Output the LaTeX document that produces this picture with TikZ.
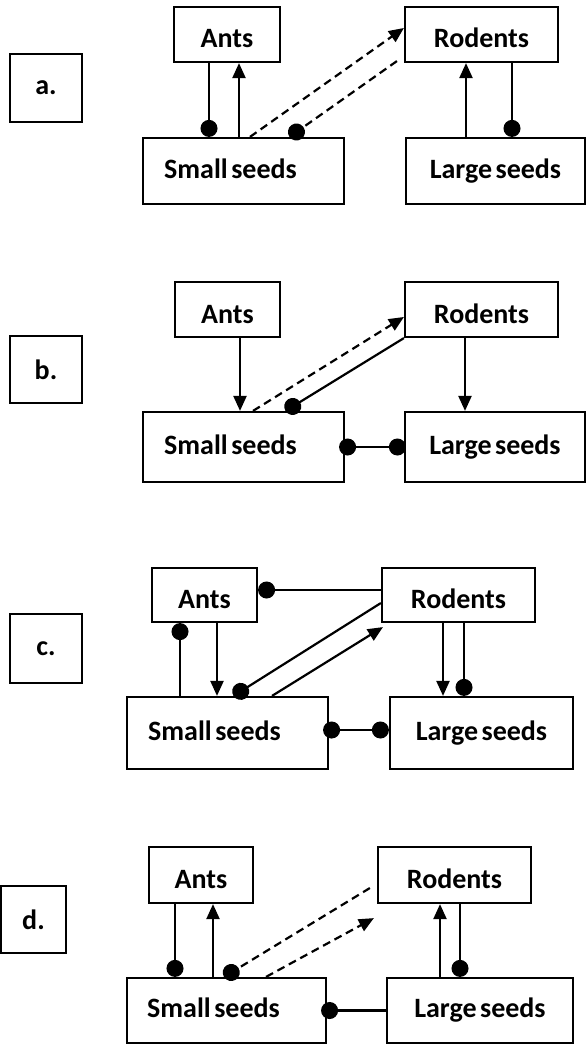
\documentclass[tikz,border=0pt]{standalone}
\usepackage{fontspec}
\setmainfont{Carlito}[WordSpace=0.55]
\usetikzlibrary{arrows.meta}
\tikzset{
box/.style={
	  draw, line width=2.2pt, rectangle, inner sep=0pt,
	    font=\bfseries\fontsize{28}{30}\selectfont},
upbox/.style={box, minimum height=55pt, text height=27pt, text depth=0pt},
seedbox/.style={box, text height=18pt, text depth=4pt},
smallbox/.style={seedbox, minimum width=201pt, execute at end node={\hspace{26pt}}},
tagbox/.style={box, minimum width=72pt},
act/.style={line width=2.2pt, -{Triangle[length=15pt, width=13pt]}},
inh/.style={line width=2.2pt, -{Circle[length=17pt]}},
inhboth/.style={line width=2.2pt, {Circle[length=17pt]}-{Circle[length=17pt]}},
dashline/.style={dash pattern=on 8pt off 5pt}
}

\begin{document}
\begin{tikzpicture}[x=1pt, y=-1pt]
	\useasboundingbox (0,0) rectangle (587,1046);
	% a.
	\node[tagbox, minimum height=68pt] (a-tag) at (46,88) {a.};
	\node[upbox, minimum width=106pt] (a-ants) at (227,34.5) {Ants};
	\node[upbox, minimum width=153pt] (a-rod) at (481.5,34.5) {Rodents};
	\node[smallbox, minimum height=66pt] (a-small) at (243.5,171) {Small seeds};
	\node[seedbox, minimum width=179pt, minimum height=66pt] (a-large) at (495.5,171) {Large seeds};
	\draw[inh] ([xshift=-18pt]a-ants.south) -- ([xshift=-18pt]a-ants.south |- a-small.north);
	\draw[act] ([xshift=12pt]a-ants.south |- a-small.north) -- ([xshift=12pt]a-ants.south);
	\draw[act, dashline] ([xshift=6.5pt]a-small.north) -- ([yshift=6.5pt]a-rod.west);
	\draw[inh, dashline] ([xshift=-7pt, yshift=2pt]a-rod.south west) -- ([xshift=46pt]a-small.north);
	\draw[act] ([xshift=-15.5pt]a-rod.south |- a-large.north) -- ([xshift=-15.5pt]a-rod.south);
	\draw[inh] ([xshift=30.5pt]a-rod.south) -- ([xshift=30.5pt]a-rod.south |- a-large.north);
	% b.
	\node[tagbox, minimum height=67pt] (b-tag) at (46,369.5) {b.};
	\node[upbox, minimum width=105pt] (b-ants) at (227.5,309.5) {Ants};
	\node[upbox, minimum width=153pt] (b-rod) at (481.5,309.5) {Rodents};
	\node[smallbox, minimum height=70pt] (b-small) at (243.5,447) {Small seeds};
	\node[seedbox, minimum width=180pt, minimum height=70pt] (b-large) at (495,447) {Large seeds};
	\draw[act] ([xshift=12.5pt]b-ants.south) -- ([xshift=12.5pt]b-ants.south |- b-small.north);
	\draw[act, dashline] ([xshift=9.5pt]b-small.north) -- ([yshift=-7.5pt]b-rod.west);
	\draw[inh] (b-rod.south west) -- ([xshift=42pt]b-small.north);
	\draw[act] ([xshift=-16.5pt]b-rod.south) -- ([xshift=-16.5pt]b-rod.south |- b-large.north);
	\draw[inhboth, shorten <=-6pt, shorten >=-2pt] (b-small.east) -- (b-large.west);
	% c.
	\node[tagbox, minimum height=69pt] (c-tag) at (46,648.5) {c.};
	\node[upbox, minimum width=105pt, minimum height=54pt] (c-ants) at (204.5,595) {Ants};
	\node[upbox, minimum width=153pt, minimum height=54pt] (c-rod) at (458.5,595) {Rodents};
	\node[smallbox, minimum height=72pt] (c-small) at (227.5,733) {Small seeds};
	\node[seedbox, minimum width=183pt, minimum height=72pt] (c-large) at (481.5,733) {Large seeds};
	\draw[inh] ([xshift=-24.5pt]c-ants.south |- c-small.north) -- ([xshift=-24.5pt]c-ants.south);
	\draw[act] ([xshift=12.5pt]c-ants.south) -- ([xshift=12.5pt]c-ants.south |- c-small.north);
	\draw[inh] ([yshift=5pt]c-rod.west) -- ([yshift=5pt]c-ants.east);
	\draw[inh] ([yshift=-8pt]c-rod.west) -- ([xshift=6pt]c-small.north);
	\draw[act] ([xshift=44.5pt]c-small.north) -- ([xshift=2pt, yshift=-4pt]c-rod.south west);
	\draw[act] ([xshift=-15.5pt]c-rod.south) -- ([xshift=-15.5pt]c-rod.south |- c-large.north);
	\draw[inh] ([xshift=5.5pt]c-rod.south) -- ([xshift=5.5pt]c-rod.south |- c-large.north);
	\draw[inhboth, shorten <=-6pt] ([yshift=3pt]c-small.east) -- ([yshift=3pt]c-large.west);
	% d.
	\node[tagbox, minimum width=65pt, minimum height=67pt] (d-tag) at (33.5,919.5) {d.};
	\node[upbox, minimum width=104pt, minimum height=56pt] (d-ants) at (201,875) {Ants};
	\node[upbox, minimum width=153pt, minimum height=56pt] (d-rod) at (454.5,875) {Rodents};
	\node[smallbox, minimum width=199pt, minimum height=65pt] (d-small) at (226.5,1010.5) {Small seeds};
	\node[seedbox, minimum width=186pt, minimum height=65pt] (d-large) at (480,1010.5) {Large seeds};
	\draw[inh] ([xshift=-26pt]d-ants.south) -- ([xshift=-26pt]d-ants.south |- d-small.north);
	\draw[act] ([xshift=12pt]d-ants.south |- d-small.north) -- ([xshift=12pt]d-ants.south);
	\draw[inh, dashline] ([xshift=-7pt, yshift=-13pt]d-rod.west) -- ([xshift=-2.5pt]d-small.north);
	\draw[act, dashline] ([xshift=39.5pt]d-small.north) -- ([xshift=-3pt, yshift=-14pt]d-rod.south west);
	\draw[act] ([xshift=-14.5pt]d-rod.south |- d-large.north) -- ([xshift=-14.5pt]d-rod.south);
	\draw[inh] ([xshift=5.5pt]d-rod.south) -- ([xshift=5.5pt]d-rod.south |- d-large.north);
	\draw[inh, shorten >=-6pt] (d-large.west) -- (d-small.east);
\end{tikzpicture}
\end{document}
